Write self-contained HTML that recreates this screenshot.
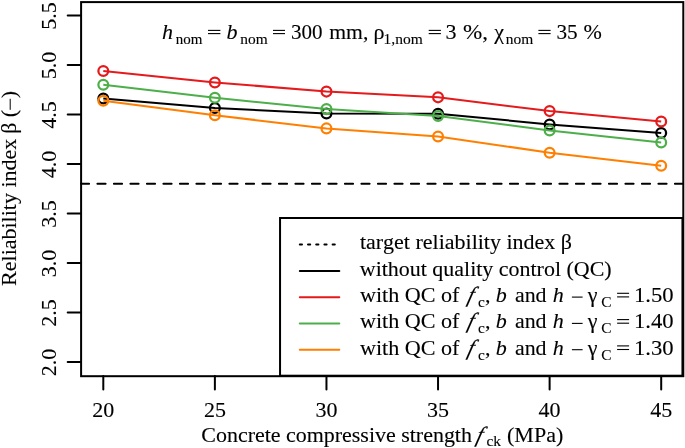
<!DOCTYPE html>
<html><head><meta charset="utf-8"><style>
html,body{margin:0;padding:0;background:#fff;}
svg{display:block;will-change:transform;}
text{font-family:"Liberation Serif",serif;fill:#000;font-kerning:none;stroke:#000;stroke-width:0.12px;}
</style></head><body>
<svg width="685" height="448" viewBox="0 0 685 448">
<rect x="0" y="0" width="685" height="448" fill="#fff"/>

<line x1="80.9" y1="183.87" x2="683" y2="183.87" stroke="#000" stroke-width="2" stroke-linecap="round" stroke-dasharray="8.2,8.3"/>
<polyline points="103.30,98.40 214.88,108.00 326.46,113.50 438.04,113.70 549.62,124.40 661.20,133.00" fill="none" stroke="#000000" stroke-width="2" stroke-linejoin="round"/>
<circle cx="103.30" cy="98.40" r="4.9" fill="none" stroke="#000000" stroke-width="2.25"/>
<circle cx="214.88" cy="108.00" r="4.9" fill="none" stroke="#000000" stroke-width="2.25"/>
<circle cx="326.46" cy="113.50" r="4.9" fill="none" stroke="#000000" stroke-width="2.25"/>
<circle cx="438.04" cy="113.70" r="4.9" fill="none" stroke="#000000" stroke-width="2.25"/>
<circle cx="549.62" cy="124.40" r="4.9" fill="none" stroke="#000000" stroke-width="2.25"/>
<circle cx="661.20" cy="133.00" r="4.9" fill="none" stroke="#000000" stroke-width="2.25"/>
<polyline points="103.30,70.90 214.88,82.40 326.46,91.60 438.04,97.35 549.62,111.10 661.20,121.40" fill="none" stroke="#E41A1C" stroke-width="2" stroke-linejoin="round"/>
<circle cx="103.30" cy="70.90" r="4.9" fill="none" stroke="#E41A1C" stroke-width="2.25"/>
<circle cx="214.88" cy="82.40" r="4.9" fill="none" stroke="#E41A1C" stroke-width="2.25"/>
<circle cx="326.46" cy="91.60" r="4.9" fill="none" stroke="#E41A1C" stroke-width="2.25"/>
<circle cx="438.04" cy="97.35" r="4.9" fill="none" stroke="#E41A1C" stroke-width="2.25"/>
<circle cx="549.62" cy="111.10" r="4.9" fill="none" stroke="#E41A1C" stroke-width="2.25"/>
<circle cx="661.20" cy="121.40" r="4.9" fill="none" stroke="#E41A1C" stroke-width="2.25"/>
<polyline points="103.30,84.80 214.88,97.70 326.46,109.10 438.04,116.00 549.62,130.50 661.20,142.50" fill="none" stroke="#4DAF4A" stroke-width="2" stroke-linejoin="round"/>
<circle cx="103.30" cy="84.80" r="4.9" fill="none" stroke="#4DAF4A" stroke-width="2.25"/>
<circle cx="214.88" cy="97.70" r="4.9" fill="none" stroke="#4DAF4A" stroke-width="2.25"/>
<circle cx="326.46" cy="109.10" r="4.9" fill="none" stroke="#4DAF4A" stroke-width="2.25"/>
<circle cx="438.04" cy="116.00" r="4.9" fill="none" stroke="#4DAF4A" stroke-width="2.25"/>
<circle cx="549.62" cy="130.50" r="4.9" fill="none" stroke="#4DAF4A" stroke-width="2.25"/>
<circle cx="661.20" cy="142.50" r="4.9" fill="none" stroke="#4DAF4A" stroke-width="2.25"/>
<polyline points="103.30,100.70 214.88,115.30 326.46,128.40 438.04,136.40 549.62,152.70 661.20,165.80" fill="none" stroke="#FF7F00" stroke-width="2" stroke-linejoin="round"/>
<circle cx="103.30" cy="100.70" r="4.9" fill="none" stroke="#FF7F00" stroke-width="2.25"/>
<circle cx="214.88" cy="115.30" r="4.9" fill="none" stroke="#FF7F00" stroke-width="2.25"/>
<circle cx="326.46" cy="128.40" r="4.9" fill="none" stroke="#FF7F00" stroke-width="2.25"/>
<circle cx="438.04" cy="136.40" r="4.9" fill="none" stroke="#FF7F00" stroke-width="2.25"/>
<circle cx="549.62" cy="152.70" r="4.9" fill="none" stroke="#FF7F00" stroke-width="2.25"/>
<circle cx="661.20" cy="165.80" r="4.9" fill="none" stroke="#FF7F00" stroke-width="2.25"/>
<line x1="67.7" y1="362.10" x2="81" y2="362.10" stroke="#000" stroke-width="2" stroke-linecap="round"/>
<text transform="translate(56.1,362.50) rotate(-90)" font-size="22.0" text-anchor="middle">2.0</text>
<line x1="67.7" y1="312.59" x2="81" y2="312.59" stroke="#000" stroke-width="2" stroke-linecap="round"/>
<text transform="translate(56.1,312.99) rotate(-90)" font-size="22.0" text-anchor="middle">2.5</text>
<line x1="67.7" y1="263.08" x2="81" y2="263.08" stroke="#000" stroke-width="2" stroke-linecap="round"/>
<text transform="translate(56.1,263.48) rotate(-90)" font-size="22.0" text-anchor="middle">3.0</text>
<line x1="67.7" y1="213.58" x2="81" y2="213.58" stroke="#000" stroke-width="2" stroke-linecap="round"/>
<text transform="translate(56.1,213.98) rotate(-90)" font-size="22.0" text-anchor="middle">3.5</text>
<line x1="67.7" y1="164.07" x2="81" y2="164.07" stroke="#000" stroke-width="2" stroke-linecap="round"/>
<text transform="translate(56.1,164.47) rotate(-90)" font-size="22.0" text-anchor="middle">4.0</text>
<line x1="67.7" y1="114.56" x2="81" y2="114.56" stroke="#000" stroke-width="2" stroke-linecap="round"/>
<text transform="translate(56.1,114.96) rotate(-90)" font-size="22.0" text-anchor="middle">4.5</text>
<line x1="67.7" y1="65.06" x2="81" y2="65.06" stroke="#000" stroke-width="2" stroke-linecap="round"/>
<text transform="translate(56.1,65.46) rotate(-90)" font-size="22.0" text-anchor="middle">5.0</text>
<line x1="67.7" y1="15.55" x2="81" y2="15.55" stroke="#000" stroke-width="2" stroke-linecap="round"/>
<text transform="translate(56.1,15.95) rotate(-90)" font-size="22.0" text-anchor="middle">5.5</text>
<line x1="103.30" y1="376" x2="103.30" y2="389.6" stroke="#000" stroke-width="2" stroke-linecap="round"/>
<text x="103.30" y="416.8" font-size="22.0" text-anchor="middle">20</text>
<line x1="214.88" y1="376" x2="214.88" y2="389.6" stroke="#000" stroke-width="2" stroke-linecap="round"/>
<text x="214.88" y="416.8" font-size="22.0" text-anchor="middle">25</text>
<line x1="326.46" y1="376" x2="326.46" y2="389.6" stroke="#000" stroke-width="2" stroke-linecap="round"/>
<text x="326.46" y="416.8" font-size="22.0" text-anchor="middle">30</text>
<line x1="438.04" y1="376" x2="438.04" y2="389.6" stroke="#000" stroke-width="2" stroke-linecap="round"/>
<text x="438.04" y="416.8" font-size="22.0" text-anchor="middle">35</text>
<line x1="549.62" y1="376" x2="549.62" y2="389.6" stroke="#000" stroke-width="2" stroke-linecap="round"/>
<text x="549.62" y="416.8" font-size="22.0" text-anchor="middle">40</text>
<line x1="661.20" y1="376" x2="661.20" y2="389.6" stroke="#000" stroke-width="2" stroke-linecap="round"/>
<text x="661.20" y="416.8" font-size="22.0" text-anchor="middle">45</text>
<text transform="translate(15.60,285.30) rotate(-90) scale(1.0003,1) translate(-0.63,0)" font-size="22.0">Reliability index</text>
<text transform="translate(15.60,132.27) rotate(-90) scale(1.0000,1) translate(-1.42,0)" font-size="22.0">β</text>
<text transform="translate(15.60,116.25) rotate(-90) scale(1.0000,1) translate(-0.97,0)" font-size="22.0">(</text>
<text transform="translate(15.60,97.65) rotate(-90) scale(1.0000,1) translate(-0.71,0)" font-size="22.0">)</text>
<line x1="10.2" y1="109.8" x2="10.2" y2="98.8" stroke="#000" stroke-width="1.0"/>
<text transform="translate(201.30,441.60) scale(0.9983,1)" font-size="22.0">Concrete compressive strength</text>
<text transform="translate(475.34,441.60) skewX(-15.11)" font-size="22.0" font-style="italic">f</text>
<text transform="translate(486.41,446.10) scale(1.0037,1)" font-size="15.4">ck</text>
<text x="507.03" y="441.60" font-size="22.0">(MPa)</text>
<text x="162.01" y="38.80" font-size="22.0" font-style="italic">h</text>
<text transform="translate(175.76,43.90) scale(0.9744,1)" font-size="15.4">nom</text>
<line x1="208.00" y1="30.40" x2="220.40" y2="30.40" stroke="#000" stroke-width="1.1"/><line x1="208.00" y1="33.60" x2="220.40" y2="33.60" stroke="#000" stroke-width="1.1"/>
<text x="226.52" y="38.80" font-size="22.0" font-style="italic">b</text>
<text x="240.25" y="43.90" font-size="15.4">nom</text>
<line x1="273.00" y1="30.40" x2="285.00" y2="30.40" stroke="#000" stroke-width="1.1"/><line x1="273.00" y1="33.60" x2="285.00" y2="33.60" stroke="#000" stroke-width="1.1"/>
<text transform="translate(290.99,38.80) scale(0.9579,1)" font-size="22.0">300</text>
<text transform="translate(329.25,38.80) scale(0.9848,1)" font-size="22.0">mm,</text>
<text x="373.45" y="38.80" font-size="22.0">ρ</text>
<text transform="translate(383.54,43.90) scale(1.0071,1)" font-size="15.4">1,nom</text>
<line x1="428.70" y1="30.40" x2="440.90" y2="30.40" stroke="#000" stroke-width="1.1"/><line x1="428.70" y1="33.60" x2="440.90" y2="33.60" stroke="#000" stroke-width="1.1"/>
<text x="445.40" y="38.80" font-size="22.0">3</text>
<text transform="translate(462.91,38.80) scale(1.0512,1)" font-size="22.0">%,</text>
<text x="494.18" y="38.80" font-size="22.0">χ</text>
<text transform="translate(505.85,43.90) scale(1.0043,1)" font-size="15.4">nom</text>
<line x1="538.40" y1="30.40" x2="550.60" y2="30.40" stroke="#000" stroke-width="1.1"/><line x1="538.40" y1="33.60" x2="550.60" y2="33.60" stroke="#000" stroke-width="1.1"/>
<text transform="translate(556.38,38.80) scale(0.9658,1)" font-size="22.0">35</text>
<text x="583.39" y="38.80" font-size="22.0">%</text>
<rect x="81.1" y="2.1" width="602.2" height="374.1" fill="none" stroke="#000" stroke-width="2"/>
<rect x="280.05" y="218" width="402.4" height="157.7" fill="#fff" stroke="#000" stroke-width="2"/>
<line x1="299.8" y1="244.60" x2="339.3" y2="244.60" stroke="#000000" stroke-width="2" stroke-linecap="round" stroke-dasharray="2.2,6"/>
<text x="359.89" y="249.30" font-size="22.0">target reliability index β</text>
<line x1="299.8" y1="270.90" x2="339.3" y2="270.90" stroke="#000000" stroke-width="2" stroke-linecap="round"/>
<text transform="translate(359.78,275.60) scale(0.9985,1)" font-size="22.0">without quality control (QC)</text>
<line x1="299.8" y1="297.20" x2="339.3" y2="297.20" stroke="#E41A1C" stroke-width="2" stroke-linecap="round"/>
<text transform="translate(359.98,301.90) scale(1.0053,1)" font-size="22.0">with QC of</text>
<text transform="translate(466.49,301.90) skewX(-15.11)" font-size="22.0" font-style="italic">f</text>
<text x="478.03" y="306.90" font-size="15.4">c</text>
<text x="484.97" y="301.90" font-size="22.0">,</text>
<text x="495.72" y="301.90" font-size="22.0" font-style="italic">b</text>
<text transform="translate(514.93,301.90) scale(0.9960,1)" font-size="22.0">and</text>
<text x="552.86" y="301.90" font-size="22.0" font-style="italic">h</text>
<line x1="571.90" y1="297.10" x2="582.60" y2="297.10" stroke="#000" stroke-width="1.1"/>
<text x="587.71" y="301.90" font-size="22.0">γ</text>
<text x="601.17" y="306.90" font-size="15.4">C</text>
<line x1="617.10" y1="293.30" x2="629.10" y2="293.30" stroke="#000" stroke-width="1.1"/><line x1="617.10" y1="296.90" x2="629.10" y2="296.90" stroke="#000" stroke-width="1.1"/>
<text transform="translate(634.01,301.90) scale(1.0300,1)" font-size="22.0">1.50</text>
<line x1="299.8" y1="323.50" x2="339.3" y2="323.50" stroke="#4DAF4A" stroke-width="2" stroke-linecap="round"/>
<text transform="translate(359.98,328.20) scale(1.0053,1)" font-size="22.0">with QC of</text>
<text transform="translate(466.49,328.20) skewX(-15.11)" font-size="22.0" font-style="italic">f</text>
<text x="478.03" y="333.20" font-size="15.4">c</text>
<text x="484.97" y="328.20" font-size="22.0">,</text>
<text x="495.72" y="328.20" font-size="22.0" font-style="italic">b</text>
<text transform="translate(514.93,328.20) scale(0.9960,1)" font-size="22.0">and</text>
<text x="552.86" y="328.20" font-size="22.0" font-style="italic">h</text>
<line x1="571.90" y1="323.40" x2="582.60" y2="323.40" stroke="#000" stroke-width="1.1"/>
<text x="587.71" y="328.20" font-size="22.0">γ</text>
<text x="601.17" y="333.20" font-size="15.4">C</text>
<line x1="617.10" y1="319.60" x2="629.10" y2="319.60" stroke="#000" stroke-width="1.1"/><line x1="617.10" y1="323.20" x2="629.10" y2="323.20" stroke="#000" stroke-width="1.1"/>
<text transform="translate(634.01,328.20) scale(1.0300,1)" font-size="22.0">1.40</text>
<line x1="299.8" y1="349.80" x2="339.3" y2="349.80" stroke="#FF7F00" stroke-width="2" stroke-linecap="round"/>
<text transform="translate(359.98,354.50) scale(1.0053,1)" font-size="22.0">with QC of</text>
<text transform="translate(466.49,354.50) skewX(-15.11)" font-size="22.0" font-style="italic">f</text>
<text x="478.03" y="359.50" font-size="15.4">c</text>
<text x="484.97" y="354.50" font-size="22.0">,</text>
<text x="495.72" y="354.50" font-size="22.0" font-style="italic">b</text>
<text transform="translate(514.93,354.50) scale(0.9960,1)" font-size="22.0">and</text>
<text x="552.86" y="354.50" font-size="22.0" font-style="italic">h</text>
<line x1="571.90" y1="349.70" x2="582.60" y2="349.70" stroke="#000" stroke-width="1.1"/>
<text x="587.71" y="354.50" font-size="22.0">γ</text>
<text x="601.17" y="359.50" font-size="15.4">C</text>
<line x1="617.10" y1="345.90" x2="629.10" y2="345.90" stroke="#000" stroke-width="1.1"/><line x1="617.10" y1="349.50" x2="629.10" y2="349.50" stroke="#000" stroke-width="1.1"/>
<text transform="translate(634.01,354.50) scale(1.0300,1)" font-size="22.0">1.30</text>
</svg></body></html>
